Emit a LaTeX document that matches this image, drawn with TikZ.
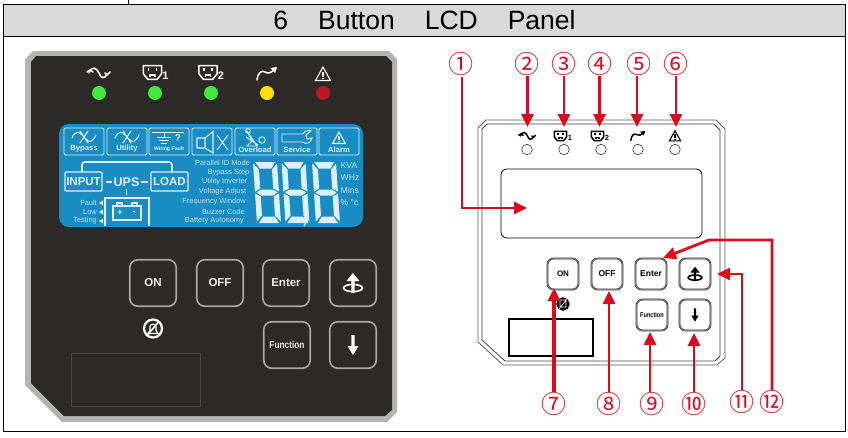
\documentclass[tikz,border=0pt]{standalone}
\usepackage{fontspec}
\setmainfont{Liberation Sans}
\newfontfamily\circfont{Noto Sans CJK SC}
\usetikzlibrary{arrows.meta}

\definecolor{paneldark}{HTML}{2B2A28}
\definecolor{panelrim}{HTML}{B4B4B2}
\definecolor{lcdblue}{HTML}{1A8CC4}
\definecolor{lcdline}{HTML}{DDF1FA}
\definecolor{lcdtext}{HTML}{BFE2F2}
\definecolor{keyrim}{HTML}{A8A8A2}
\definecolor{ledgreen}{HTML}{3FE83A}
\definecolor{ledyellow}{HTML}{FFE000}
\definecolor{ledred}{HTML}{B8191E}
\definecolor{callred}{HTML}{DC0A1E}
\definecolor{headgrey}{HTML}{D9D9D9}

\newcommand{\fs}[1]{\fontsize{#1}{#1}\selectfont}

% icons: position, scale, colour
\newcommand{\acicon}[3]{
  \begin{scope}[shift={(#1)}, scale=#2, draw=#3, line width=1.5pt, line cap=round, line join=round]
    \draw (-10,0) .. controls (-7,-7) and (-3,-6) .. (0,0) .. controls (2,6) and (6,6) .. (8,1);
    \draw (-12,-1) -- (-9,-3) -- (-6,-1);
    \draw (6,0) -- (8,2) -- (11,-1);
  \end{scope}}
\newcommand{\outleticon}[3]{
  \begin{scope}[shift={(#1)}, scale=#2, draw=#3, line width=1.5pt, line join=round]
    \draw (-8,-6) -- (8,-6) -- (8,1) -- (4,6) -- (-4,6) -- (-8,1) -- cycle;
    \draw (-3.5,-4) -- (-3.5,-1) (3.5,-4) -- (3.5,-1);
    \draw (-2,4) -- (-2,2) -- (2,2) -- (2,4);
  \end{scope}}
\newcommand{\invicon}[3]{
  \begin{scope}[shift={(#1)}, scale=#2, draw=#3, line width=1.5pt, line cap=round]
    \draw (-10,6) .. controls (-9,-2) and (-5,-4) .. (-2,-2) .. controls (1,0) and (4,-1) .. (8,-5);
    \fill [#3] (10,-7) -- (3,-6) -- (8,-1) -- cycle;
  \end{scope}}
\newcommand{\warnicon}[3]{
  \begin{scope}[shift={(#1)}, scale=#2, draw=#3, line width=1.1pt, line join=miter]
    \draw (0,-7) -- (7.5,6.5) -- (-7.5,6.5) -- cycle;
    \draw (0,-2.5) -- (0,2.5) (0,3.6) -- (0,5);
  \end{scope}}
\newcommand{\brokenac}[1]{
  \begin{scope}[shift={(#1)}, draw=lcdline, line width=1pt, line cap=round]
    \draw (-12,1) .. controls (-9,-6) and (-5,-6) .. (-2,-2);
    \draw (2,2) .. controls (5,6) and (9,5) .. (12,-2);
    \draw (-4,-6) -- (4,6) (4,-6) -- (-4,6);
  \end{scope}}
\newcommand{\updownicon}[3]{
  \begin{scope}[shift={(#1)}, scale=#2]
    \fill [#3] (0,-10) -- (6.5,-2) -- (1.6,-2) -- (1.6,10) -- (-1.6,10) -- (-1.6,-2) -- (-6.5,-2) -- cycle;
    \draw [#3, line width=1.6pt] (0,5) ellipse (9.5 and 3.6);
  \end{scope}}
\newcommand{\downicon}[3]{
  \begin{scope}[shift={(#1)}, scale=#2]
    \fill [#3] (0,10) -- (5.5,1) -- (1.7,1) -- (1.7,-10) -- (-1.7,-10) -- (-1.7,1) -- (-5.5,1) -- cycle;
  \end{scope}}
\newcommand{\bellicon}[4]{
  \begin{scope}[shift={(#1)}, scale=#2]
    \draw [#3, fill=#4, line width=2.2pt] (0,0) circle (9);
    \draw [#3, line width=1.2pt] (-5,5) -- (5,5) -- (3,2) -- (3,-2) .. controls (3,-5) and (-3,-5) .. (-3,-2) -- (-3,2) -- cycle;
    \draw [#3, line width=1.6pt] (6,-7) -- (-6,7);
  \end{scope}}
\newcommand{\lcddigit}[1]{
  \begin{scope}[shift={(#1,162)}, xslant=-.065, lcdline]
    \fill (2,0) -- (22,0) -- (18,6.5) -- (6.5,6.5) -- cycle;
    \fill (0,1.5) -- (5.5,7.5) -- (5.5,26.5) -- (0,29.5) -- cycle;
    \fill (24,1.5) -- (18.5,7.5) -- (18.5,26.5) -- (24,29.5) -- cycle;
    \fill (1.5,30.5) -- (6,27.5) -- (18,27.5) -- (22.5,30.5) -- (18,33.5) -- (6,33.5) -- cycle;
    \fill (0,31.5) -- (5.5,34.5) -- (5.5,53.5) -- (0,59.5) -- cycle;
    \fill (24,31.5) -- (18.5,34.5) -- (18.5,53.5) -- (24,59.5) -- cycle;
    \fill (2,61) -- (22,61) -- (18,54.5) -- (6.5,54.5) -- cycle;
  \end{scope}}

\tikzset{
  led/.style={circle, minimum size=14pt, inner sep=0pt},
  lcdbox/.style={draw=lcdline, line width=.9pt, rounded corners=1.5pt},
  lcdtag/.style={text=lcdline, font=\fs{7.6}\bfseries, inner sep=0pt},
  lcdsmall/.style={text=lcdtext, font=\fs{7.4}, inner sep=0pt, anchor=east},
  lcdunit/.style={text=lcdtext, font=\fs{8.6}, inner sep=0pt, anchor=west},
  lcdflow/.style={draw=lcdline, line width=1.1pt, rounded corners=1pt, text=lcdline, font=\fs{11.5}\bfseries, inner sep=0pt, minimum height=19pt, minimum width=37pt},
  keybig/.style={draw=keyrim, line width=1.6pt, rounded corners=8pt, minimum size=46.5pt, inner sep=0pt, text=white!92!black, font=\fs{11.5}\bfseries},
  keysmall/.style={draw=black!85, double=black!50, double distance=.9pt, line width=.45pt, rounded corners=6pt, minimum size=31pt, inner sep=0pt, text=black, font=\fs{8}\bfseries},
  numred/.style={text=callred, font=\circfont\fs{25}, inner sep=0pt},
  callout/.style={draw=callred, line width=2.8pt, -{Triangle[length=13pt,width=12pt]}},
}

\begin{document}
\begin{tikzpicture}[x=1pt, y=-1pt]
  \useasboundingbox (0,0) rectangle (848,437);

  % table frame
  \fill [headgrey] (3,4) rectangle (845,36);
  \draw [line width=.9pt] (3,4) rectangle (845,431);
  \draw [line width=.9pt] (3,36) -- (845,36);
  \draw [line width=.8pt] (128.5,0) -- (128.5,4);
  \node [font=\fs{26.5}, inner sep=0pt] (title) at (424.5,20.5) {6\hspace{30pt}Button\hspace{30pt}LCD\hspace{30pt}Panel};

  % dark panel
  \fill [panelrim] (33,51) -- (389,51) -- (397,59) -- (397,412) -- (387,422) -- (62,422) -- (25,385) -- (25,59) -- cycle;
  \fill [paneldark] (36,56) -- (386,56) -- (392,62) -- (392,410) -- (385,416) -- (64,416) -- (31,383) -- (31,62) -- cycle;

  \node [led, fill=ledgreen] (ledac) at (99,93) {};
  \node [led, fill=ledgreen] (ledoutone) at (155,93) {};
  \node [led, fill=ledgreen] (ledouttwo) at (211,93) {};
  \node [led, fill=ledyellow] (ledinv) at (267,93) {};
  \node [led, fill=ledred] (ledwarn) at (323,93) {};

  \acicon{99,73}{1}{white}
  \outleticon{152.5,72.5}{1.15}{white}
  \outleticon{208,72.5}{1.15}{white}
  \node [text=white, font=\fs{11}\bfseries, inner sep=0pt] (oneup) at (165.5,76) {1};
  \node [text=white, font=\fs{11}\bfseries, inner sep=0pt] (twoup) at (221,76) {2};
  \invicon{267,74}{1}{white}
  \warnicon{323,74}{1}{white}

  % display
  \fill [lcdblue, rounded corners=10pt] (59,124) rectangle (363,227);

  \foreach \a/\b in {64/104, 107/147, 149/189, 192/232, 235/275, 277/317, 319/359}
    \draw [lcdbox] (\a,128) rectangle (\b,155);

  \brokenac{84,137}
  \node [lcdtag] (tagbypass) at (84,149) {Bypass};
  \brokenac{127,137}
  \node [lcdtag] (tagutility) at (127,149) {Utility};
  \draw [lcdline, line width=.9pt] (152,132) -- (184,132) (164,132) -- (164,137) (157,137) -- (171,137) (159,140) -- (169,140) (161,143) -- (167,143);
  \node [text=lcdline, font=\fs{10}\bfseries, inner sep=0pt] (tagquery) at (178,138.5) {?};
  \node [text=lcdline, font=\fs{5.2}\bfseries, inner sep=0pt] (tagwiring) at (169,149.5) {Wiring Fault};
  \draw [lcdline, line width=1.1pt] (197,138) rectangle (205,148) (205,138) -- (213,131.5) -- (213,153) -- (205,148);
  \draw [lcdline, line width=.9pt] (217,135) -- (228,150) (228,135) -- (217,150);
  \draw [lcdline, line width=.9pt] (246,137) -- (258,145) (248,131) circle (2.4) (262,140) circle (3.2) (247,131) -- (252,141) -- (247,146) -- (257,146) -- cycle;
  \node [lcdtag] (tagoverload) at (255,149.5) {Overload};
  \draw [lcdline, line width=.9pt] (282,134) -- (303,134) .. controls (304,131) and (308,130) .. (311,131) -- (306,135) -- (307,139) -- (312,138) .. controls (311,143) and (306,145) .. (303,142) -- (282,142) -- cycle;
  \node [lcdtag] (tagservice) at (297,149.5) {Service};
  \warnicon{339,138}{.85}{lcdline}
  \node [lcdtag] (tagalarm) at (339,149.5) {Alarm};

  \node [lcdflow] (flowinput) at (83.5,181.5) {INPUT};
  \node [lcdflow] (flowload) at (169.5,181.5) {LOAD};
  \node [text=lcdline, font=\fs{12.5}\bfseries, inner sep=0pt] (flowups) at (126.5,182) {UPS};
  \draw [lcdline, line width=1.8pt] (106,182) -- (112,182) (141,182) -- (148,182);
  \draw [lcdline, line width=1.6pt, rounded corners=3pt] (82,172) -- (82,162) -- (172,162) -- (172,172);

  \draw [lcdline, line width=1.1pt] (105,226) -- (105,198) -- (149,198) -- (149,226);
  \draw [lcdline, line width=1.8pt] (126.5,189) -- (126.5,195);
  \draw [lcdline, line width=1.1pt] (113,206) rectangle (141,220) (117,206) -- (117,203) -- (122,203) -- (122,206) (132,206) -- (132,203) -- (137,203) -- (137,206);
  \node [text=lcdline, font=\fs{9}\bfseries, inner sep=0pt] (plus) at (120,213) {+};
  \node [text=lcdline, font=\fs{9}\bfseries, inner sep=0pt] (minus) at (134,213) {-};

  \foreach \n/\t/\y in {flt/Fault/203, low/Low/212, tst/Testing/221} {
    \node [lcdsmall] (\n) at (97,\y) {\t};
    \fill [lcdline] (99,\y) -- (103,\y-2.5) -- (103,\y+2.5) -- cycle;
  }

  \node [lcdsmall] (modeid) at (250,163) {Parallel ID Mode};
  \node [lcdsmall] (modestep) at (249.5,172.5) {Bypass Step};
  \node [lcdsmall] (modeinv) at (247.5,182) {Utility Inverter};
  \node [lcdsmall] (modevolt) at (246.5,192) {Voltage Adjust};
  \node [lcdsmall] (modefreq) at (246,202) {Frequency Window};
  \node [lcdsmall] (modebuzz) at (245,212) {Buzzer Code};
  \node [lcdsmall] (modebatt) at (244,221) {Battery Autonomy};

  \lcddigit{253}
  \lcddigit{281.5}
  \lcddigit{312}
  \fill [lcdline] (303.5,217) rectangle (307.5,223);
  \draw [lcdline, line width=1.2pt] (305.5,223) -- (304,226);

  \node [lcdunit] (unitkva) at (340.5,166) {KVA};
  \node [lcdunit] (unitwhz) at (340.5,178) {WHz};
  \node [lcdunit] (unitmin) at (340.5,190.5) {Mins};
  \node [lcdunit] (unitpct) at (340.5,203) {\% °c};

  % keys, dark panel
  \node [keybig] (keyon) at (153,283) {ON};
  \node [keybig] (keyoff) at (220,283) {OFF};
  \node [keybig] (keyenter) at (286,283) {Enter};
  \node [keybig] (keyup) at (353,283) {};
  \node [keybig, font=\fs{10}\bfseries] (keyfunc) at (287,345) {\scalebox{.83}[1]{Function}};
  \node [keybig] (keydown) at (353,345) {};
  \updownicon{353,283}{1}{white}
  \downicon{353,345}{1}{white}
  \bellicon{153,328.5}{1}{white}{paneldark}
  \draw [draw=paneldark!85!white, line width=.8pt] (71,353) rectangle (200,406);

  % line drawing
  \draw [line width=.8pt, draw=black!65] (486,120) -- (716,120) -- (725,129) -- (725,358) -- (717,365) -- (503,365) -- (478,342) -- (478,128) -- cycle;
  \draw [line width=.8pt, draw=black!75] (487,124) -- (714,124) -- (720,130) -- (720,356) -- (715,361) -- (505,361) -- (482,340) -- (482,129) -- cycle;
  \draw [line width=.8pt, rounded corners=6pt] (501,169) rectangle (702,238);
  \draw [line width=1.1pt] (509,319) rectangle (593,356);

  \foreach \n/\x in {a/527, b/564, c/601, d/638, e/675}
    \node [circle, draw=black!80, line width=.6pt, minimum size=10.5pt, inner sep=0pt] (led\n) at (\x,149.5) {};

  \acicon{527.5,136}{.72}{black}
  \outleticon{560.5,136}{.78}{black}
  \outleticon{597.5,136}{.78}{black}
  \node [font=\fs{7.5}\bfseries, inner sep=0pt] (oned) at (570,137.5) {1};
  \node [font=\fs{7.5}\bfseries, inner sep=0pt] (twod) at (607,137.5) {2};
  \invicon{638,136}{.72}{black}
  \warnicon{675,136}{.75}{black}

  \node [keysmall] (bton) at (563,274) {ON};
  \node [keysmall, font=\fs{8.5}\bfseries] (btoff) at (607,274) {OFF};
  \node [keysmall, font=\fs{8.5}\bfseries] (btenter) at (651,274) {Enter};
  \node [keysmall] (btup) at (695,274) {};
  \node [keysmall, font=\fs{7}\bfseries] (btfunc) at (652,315) {\scalebox{.8}[1]{Function}};
  \node [keysmall] (btdown) at (695,315) {};
  \updownicon{695,274}{.72}{black}
  \downicon{695,315}{.66}{black}
  \bellicon{563,304}{.62}{black}{black}
  \draw [white, line width=.7pt] (560,300) -- (566,300) -- (566,307) -- (560,307) -- cycle (567,299) -- (559,309);

  % call-outs
  \node [numred] (num1) at (461,64) {①};
  \node [numred] (num2) at (527,64) {②};
  \node [numred] (num3) at (564,64) {③};
  \node [numred] (num4) at (600,64) {④};
  \node [numred] (num5) at (638.5,64) {⑤};
  \node [numred] (num6) at (676,64) {⑥};
  \node [numred] (num7) at (554,404) {⑦};
  \node [numred] (num8) at (609,404) {⑧};
  \node [numred] (num9) at (651.5,404) {⑨};
  \node [numred] (num10) at (693.5,404) {⑩};
  \node [numred] (num11) at (742,402) {⑪};
  \node [numred] (num12) at (772,402) {⑫};

  \coordinate (lcdin) at (527,208);
  \coordinate (pa) at (527.5,127);
  \coordinate (pb) at (564,127);
  \coordinate (pc) at (599.5,127);
  \coordinate (pd) at (637,127);
  \coordinate (pe) at (676,127);
  \coordinate (pg) at (554,288);
  \coordinate (ph) at (609,291);
  \coordinate (pi) at (650,332);
  \coordinate (pj) at (694,333);
  \coordinate (pk) at (717,274);
  \coordinate (pm) at (663,258);
  \coordinate (bendk) at (742,274);
  \coordinate (bendm) at (772,240);
  \coordinate (bendn) at (709,240);

  \draw [callout] (num1.south) ++(1,1) |- (lcdin);
  \draw [callout] (527.5,76) -- (pa);
  \draw [callout] (564,76) -- (pb);
  \draw [callout] (599.5,76) -- (pc);
  \draw [callout] (637,76) -- (pd);
  \draw [callout] (676,76) -- (pe);
  \draw [callout, line width=3.4pt] (num7.north) -- (pg);
  \draw [callout] (num8.north) -- (ph);
  \draw [callout] (650,392) -- (pi);
  \draw [callout] (694,392) -- (pj);
  \draw [callout] (num11.north) -- (bendk) -- (pk);
  \draw [callout] (num12.north) -- (bendm) -- (bendn) -- (pm);
\end{tikzpicture}
\end{document}
